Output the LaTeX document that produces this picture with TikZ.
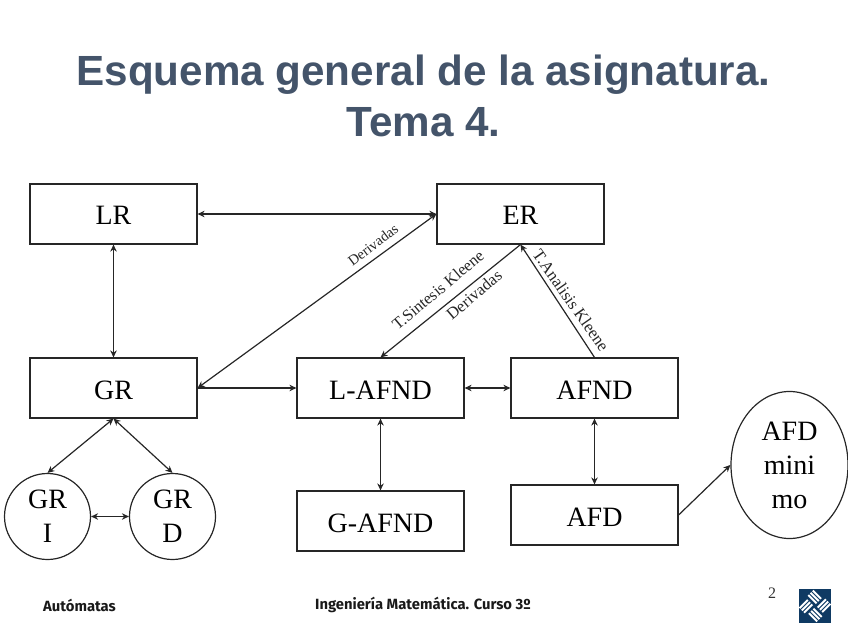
\documentclass[tikz,border=0pt]{standalone}
\usepackage{fontspec}
\setmainfont{Liberation Serif}
\newfontfamily\titlefont{Liberation Sans}
\newfontfamily\footfont{Fira Sans}
\usetikzlibrary{arrows.meta}
\usetikzlibrary{shapes.geometric}
\definecolor{titlecol}{HTML}{44546A}
\definecolor{logocol}{HTML}{0F3A63}
\tikzset{
  box/.style={draw=black!85, line width=1.2pt, minimum width=167pt, minimum height=60pt, inner sep=0pt, text height=22pt, text depth=0pt, font=\fontsize{28}{28}\selectfont},
  round/.style={draw=black!85, line width=1.2pt, circle, minimum size=86pt, inner sep=0pt, align=center, font=\fontsize{28}{34}\selectfont},
  link/.style={line width=1.2pt, draw=black!85, >={Stealth[length=7pt,width=6.5pt]}},
  tag/.style={font=\fontsize{#1}{#1}\selectfont, inner sep=0pt, text=black!85},
  foot/.style={font=\footfont\bfseries\fontsize{14.8}{14.8}\selectfont, inner sep=0pt, text=black!90}
}
\begin{document}
\begin{tikzpicture}[x=1pt,y=-1pt]
\useasboundingbox (0,0) rectangle (848,636);
% Title
\node[font=\titlefont\bfseries\fontsize{42.2}{51}\selectfont, text=titlecol, align=center, inner sep=0pt] (title) at (423.5,95.5) {Esquema general de la asignatura.\\Tema 4.};
% Boxes
\node[box] (lr) at (113.5,214) {LR};
\node[box] (er) at (520.5,214) {ER};
\node[box] (gr) at (113.5,388) {GR};
\node[box] (lafnd) at (380.5,388) {L-AFND};
\node[box] (afnd) at (594.5,388) {AFND};
\node[box] (gafnd) at (380.5,521) {G-AFND};
\node[box] (afd) at (594.5,515) {AFD};
% Circles
\node[round] (gri) at (47.5,516.5) {GR\\I};
\node[round] (grd) at (172.5,516.5) {GR\\D};
\node[draw=black!85, line width=1.2pt, ellipse, minimum width=117pt, minimum height=147pt, inner sep=0pt, align=center, font=\fontsize{28}{34}\selectfont] (afdmin) at (789.5,465) {AFD\\mini\\mo};
% Arrows
\draw[link,<->] (lr) -- (er);
\draw[link,<->] (lr) -- (gr);
\draw[link,<->] (gr.east) -- (er.west);
\draw[link,->] (gr) -- (lafnd);
\draw[link,->] (er.south) -- (lafnd.north);
\draw[link,->] (afnd.north) -- (er.south);
\draw[link,<->] (lafnd) -- (afnd);
\draw[link,<->] (lafnd) -- (gafnd);
\draw[link,<->] (afnd) -- (afd);
\draw[link,->] (afd.east) -- (afdmin.west);
\draw[link,<->] (gr.south) -- (gri.north);
\draw[link,<->] (gr.south) -- (grd.north);
\draw[link,<->] (gri) -- (grd);
% Labels on arrows
\node[tag=14.5, rotate=37] (der1) at (373,245) {Derivadas};
\node[tag=16.3, rotate=40] (sint) at (438,290) {T.Sintesis Kleene};
\node[tag=16.5, rotate=40] (der2) at (474,295) {Derivadas};
\node[tag=16.8, rotate=-55] (anal) at (571,300.5) {T.Analisis Kleene};
% Footer
\node[foot, anchor=west] (autom) at (43,605) {Autómatas};
\node[foot, anchor=west] (ing) at (315,604.5) {Ingeniería Matemática. Curso 3º};
\node[font=\fontsize{16}{16}\selectfont, inner sep=0pt, text=black!80] (num) at (772,593) {2};
% Logo
\fill[logocol] (799,589) rectangle (831,623);
\begin{scope}[shift={(815,606)}, rotate=45]
\foreach \a in {0,90,180,270}
  \foreach \d in {2,5.2,8.4}
    \fill[white, rotate=\a] (0.8,\d) rectangle (12.5,\d+2);
\end{scope}
\end{tikzpicture}
\end{document}
